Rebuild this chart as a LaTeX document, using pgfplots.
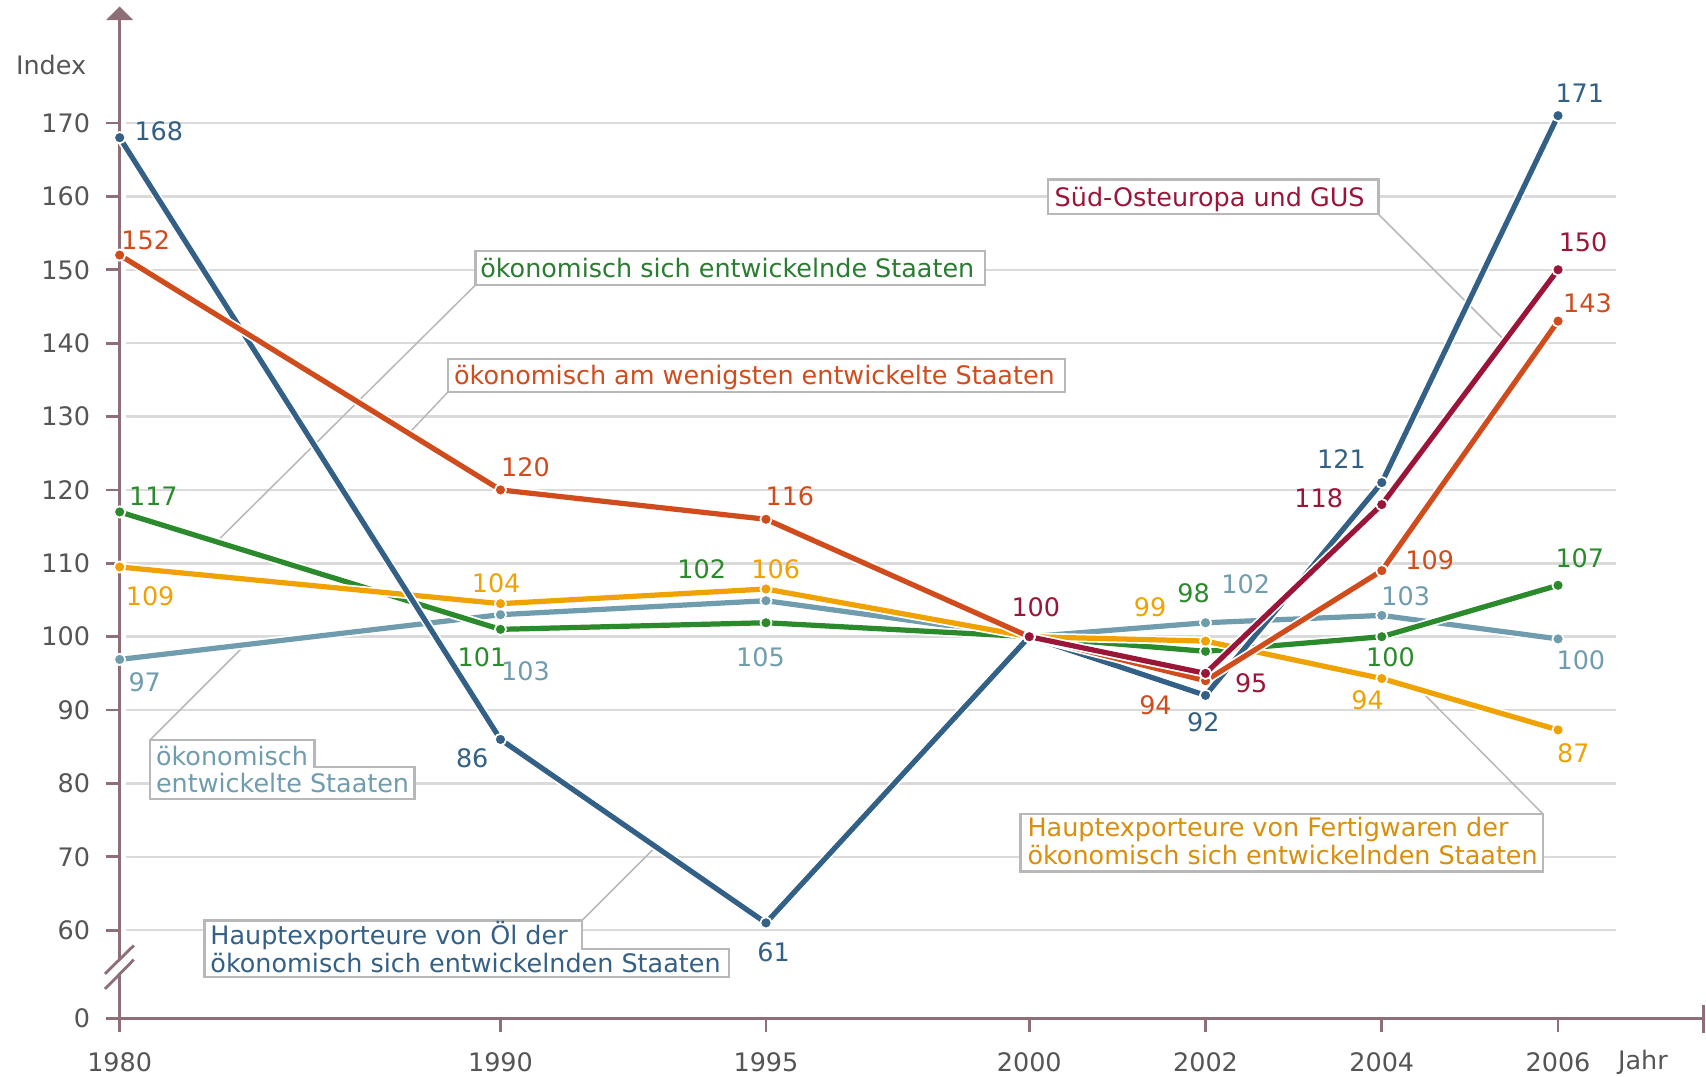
\documentclass[border=0pt]{standalone}
\usepackage{pgfplots}
\pgfplotsset{compat=1.18}
\usepackage{fontspec}
\setmainfont{DejaVu Sans}
\pgfdeclarelayer{background}
\pgfsetlayers{background,main}
\definecolor{cblue}{HTML}{336087}
\definecolor{cred}{HTML}{D04C1C}
\definecolor{ccrim}{HTML}{9B1538}
\definecolor{cgreen}{HTML}{2B8A2B}
\definecolor{cgreentxt}{HTML}{2A7D30}
\definecolor{cyel}{HTML}{F0A202}
\definecolor{cyeltxt}{HTML}{D98E0C}
\definecolor{clb}{HTML}{6F9DAE}
\definecolor{axcol}{HTML}{8E6F77}
\definecolor{gridc}{HTML}{DADADA}
\definecolor{boxc}{HTML}{B8B8B8}
\definecolor{tickc}{HTML}{555555}
\newcommand\cf{\fontsize{11.7}{13}\selectfont}
\pgfplotsset{
 ser/.style={#1, line width=2.4pt, line join=round, mark=*, mark size=2.6pt,
   mark options={fill=#1, draw=white, line width=0.8pt, solid}},
 halo/.style={white, line width=4pt, line join=round, forget plot, no markers},
}
\begin{document}
\begin{tikzpicture}[every node/.style={font=\cf}]
\begin{axis}[
 x=0.5pt, y=3.3725pt,
 xmin=110, xmax=1566, ymin=48, ymax=185,
 axis lines*=left,
 axis line style={draw=none},
 clip=false,
 xtick={110,460,704,946,1108,1270,1432},
 xticklabels={1980,1990,1995,2000,2002,2004,2006},
 ytick={48,60,70,80,90,100,110,120,130,140,150,160,170},
 yticklabels={0,60,70,80,90,100,110,120,130,140,150,160,170},
 tick align=outside,
 major tick length=6.5pt,
 tick style={axcol, line width=1.3pt},
 tick label style={font=\cf, text=tickc, inner sep=0pt},
 xticklabel style={yshift=-8.9pt},
 yticklabel style={xshift=-6.9pt},
]
\coordinate (PX0) at (axis cs:0,186.7606);
% ökonomisch entwickelte Staaten
\addplot[halo] coordinates {(110,96.9) (460,103) (704,104.9) (946,100) (1108,101.9) (1270,102.9) (1432,99.7)};
\addplot[ser=clb] coordinates {(110,96.9) (460,103) (704,104.9) (946,100) (1108,101.9) (1270,102.9) (1432,99.7)};
% ökonomisch sich entwickelnde Staaten
\addplot[halo] coordinates {(110,117) (460,101) (704,101.9) (946,100) (1108,98) (1270,100) (1432,107)};
\addplot[ser=cgreen] coordinates {(110,117) (460,101) (704,101.9) (946,100) (1108,98) (1270,100) (1432,107)};
% Hauptexporteure von Fertigwaren
\addplot[halo] coordinates {(110,109.5) (460,104.5) (704,106.5) (946,100) (1108,99.4) (1270,94.3) (1432,87.3)};
\addplot[ser=cyel] coordinates {(110,109.5) (460,104.5) (704,106.5) (946,100) (1108,99.4) (1270,94.3) (1432,87.3)};
% Hauptexporteure von Öl
\addplot[halo] coordinates {(110,168) (460,86) (704,61) (946,100) (1108,92) (1270,121) (1432,171)};
\addplot[ser=cblue] coordinates {(110,168) (460,86) (704,61) (946,100) (1108,92) (1270,121) (1432,171)};
% ökonomisch am wenigsten entwickelte Staaten
\addplot[halo] coordinates {(110,152) (460,120) (704,116) (946,100) (1108,94) (1270,109) (1432,143)};
\addplot[ser=cred] coordinates {(110,152) (460,120) (704,116) (946,100) (1108,94) (1270,109) (1432,143)};
% Süd-Osteuropa und GUS
\addplot[halo] coordinates {(946,100) (1108,95) (1270,118) (1432,150)};
\addplot[ser=ccrim] coordinates {(946,100) (1108,95) (1270,118) (1432,150)};
\end{axis}
\begin{scope}[shift={(PX0)}, x=0.5pt, y=-0.5pt]
\path (0,0) rectangle (1568,989);
\begin{pgfonlayer}{background}
 \foreach \v in {60,70,...,170}
   \draw[gridc, line width=1.1pt] (116,{855-(\v-60)*6.745}) -- (1485,{855-(\v-60)*6.745});
 \draw[axcol, line width=1.3pt] (110,936) -- (110,895) (110,882) -- (110,17);
 \fill[axcol] (110,6) -- (97.5,18.5) -- (122.5,18.5) -- cycle;
 \draw[axcol, line width=1.3pt] (96.5,895) -- (123,869) (96.5,909) -- (123,882);
 \draw[axcol, line width=1.3pt] (110,936) -- (1566,936) (1566,924) -- (1566,949);
 \draw[boxc, line width=0.7pt] (437,262) -- (201,496) (412,360) -- (377,397)
   (1267,197) -- (1383,313) (1418,748) -- (1305,634) (138,680) -- (222,596)
   (535,846) -- (600,781);
 \begin{scope}[boxc, fill=white, line width=1pt]
 \filldraw (437,231) rectangle (905,262);
 \filldraw (412,330) rectangle (979,360);
 \filldraw (963,165) rectangle (1267,197);
 \filldraw (938,748) rectangle (1418,801);
 \filldraw (138,680) -- (289,680) -- (289,705) -- (381,705) -- (381,734) -- (138,734) -- cycle;
 \filldraw (188,846) -- (535,846) -- (535,872) -- (670,872) -- (670,898) -- (188,898) -- cycle;
 \end{scope}
 \begin{scope}[every node/.style={font=\cf, anchor=base west, inner sep=0pt}]
 \node[text=cgreentxt] at (441,255) {ökonomisch sich entwickelnde Staaten};
 \node[text=cred] at (417,353.5) {ökonomisch am wenigsten entwickelte Staaten};
 \node[text=ccrim] at (969,189.5) {Süd-Osteuropa und GUS};
 \node[text=cyeltxt] at (944,769) {Hauptexporteure von Fertigwaren der};
 \node[text=cyeltxt] at (944,795) {ökonomisch sich entwickelnden Staaten};
 \node[text=clb] at (143,704) {ökonomisch};
 \node[text=clb] at (143,728) {entwickelte Staaten};
 \node[text=cblue] at (193,868) {Hauptexporteure von Öl der};
 \node[text=cblue] at (193,894) {ökonomisch sich entwickelnden Staaten};
 \end{scope}
\end{pgfonlayer}
\node[text=tickc, inner sep=0pt] at (47,60) {Index};
\node[text=tickc, inner sep=0pt] at (1510,976) {Jahr};
% data labels
\begin{scope}[every node/.style={font=\cf, inner sep=0pt}]
\node[text=cblue] at (146,121) {168};
\node[text=cblue] at (434,697) {86};
\node[text=cblue] at (711,875) {61};
\node[text=cblue] at (1106,664) {92};
\node[text=cblue] at (1233,422) {121};
\node[text=cblue] at (1452,86) {171};
\node[text=cred] at (134,221) {152};
\node[text=cred] at (483,429) {120};
\node[text=cred] at (726,456) {116};
\node[text=cred] at (1062,648) {94};
\node[text=cred] at (1314,515) {109};
\node[text=cred] at (1459,279) {143};
\node[text=ccrim] at (952,558) {100};
\node[text=ccrim] at (1150,628) {95};
\node[text=ccrim] at (1212,458) {118};
\node[text=ccrim] at (1455,223) {150};
\node[text=cgreen] at (141,456) {117};
\node[text=cgreen] at (443,604) {101};
\node[text=cgreen] at (645,523) {102};
\node[text=cgreen] at (1097,545) {98};
\node[text=cgreen] at (1278,604) {100};
\node[text=cgreen] at (1452,513) {107};
\node[text=cyel] at (138,548) {109};
\node[text=cyel] at (456,536) {104};
\node[text=cyel] at (713,523) {106};
\node[text=cyel] at (1057,558) {99};
\node[text=cyel] at (1257,644) {94};
\node[text=cyel] at (1446,692) {87};
\node[text=clb] at (133,627) {97};
\node[text=clb] at (483,617) {103};
\node[text=clb] at (699,604) {105};
\node[text=clb] at (1145,537) {102};
\node[text=clb] at (1292,548) {103};
\node[text=clb] at (1453,607) {100};
\end{scope}
\end{scope}
\end{tikzpicture}
\end{document}
